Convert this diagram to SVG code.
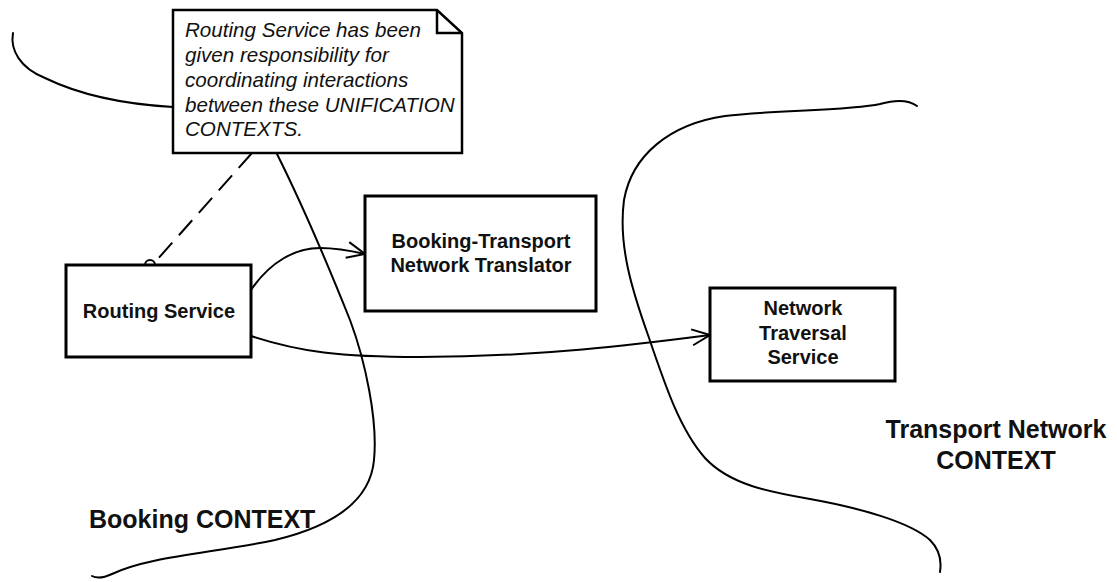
<svg xmlns="http://www.w3.org/2000/svg" width="1117" height="582" viewBox="0 0 1117 582">
<defs>
<style>
.bnd{fill:none;stroke:#000;stroke-width:2;stroke-linecap:round}
.con{fill:none;stroke:#000;stroke-width:2}
.box{fill:#fff;stroke:#000;stroke-width:3}
.lbl{font-family:"Liberation Sans",Arial,sans-serif;font-weight:bold;font-size:20px;fill:#111;text-anchor:middle}
.ctx{font-family:"Liberation Sans",Arial,sans-serif;font-weight:bold;font-size:25px;fill:#111}
.note{font-family:"Liberation Sans",Arial,sans-serif;font-style:italic;font-size:20.6px;fill:#111}
</style>
<marker id="open" viewBox="0 0 20 20" refX="19" refY="10" markerWidth="20" markerHeight="20" markerUnits="userSpaceOnUse" orient="auto">
<path d="M1,2 L19,10 L1,18" fill="none" stroke="#000" stroke-width="2"/>
</marker>
</defs>
<g id="boundaries">
<path class="bnd" d="M13,33 C10,50 20,68 45,78 C80,95 120,104 173,107"/>
<path class="bnd" d="M277,154 C300,200 330,270 350,320 C365,360 378,420 374,460 C370,505 325,528 275,540 C215,553 150,556 112,574 Q99,580 92,576"/>
<path class="bnd" d="M917,106 Q905,97 880,104 C850,111 770,110 725,116 C670,124 632,155 624,200 C618,245 632,290 648,335 C665,385 680,430 705,458 C730,485 770,492 810,499 C860,508 910,522 930,540 Q943,553 940,572"/>
</g>
<g id="connectors">
<path class="con" d="M252,153 L156,261" stroke-dasharray="20,10"/>
<path class="con" d="M251,290 C270,262 295,248 320,248 C338,248 352,251 365,254" marker-end="url(#open)"/>
<path class="con" d="M251,336 C300,352 340,357 420,357 C540,357 640,344 710,335" marker-end="url(#open)"/>
</g>
<g id="note">
<path class="box" style="stroke-width:2.5" d="M173,10 L437,10 L462,33 L462,153 L173,153 Z"/>
<path fill="none" stroke="#000" stroke-width="2.5" d="M437,10 L437,33 L462,33"/>
<text class="note" x="185" y="37">Routing Service has been</text>
<text class="note" x="185" y="62">given responsibility for</text>
<text class="note" x="185" y="87">coordinating interactions</text>
<text class="note" x="185" y="112">between these UNIFICATION</text>
<text class="note" x="185" y="136">CONTEXTS.</text>
</g>
<g id="routing-service">
<path fill="#fff" stroke="#000" stroke-width="2" d="M145,265 A5,5 0 0,1 155,265"/>
<rect class="box" x="66" y="265" width="185" height="92"/>
<text class="lbl" x="159" y="318">Routing Service</text>
</g>
<g id="translator">
<rect class="box" x="365" y="196" width="231" height="115"/>
<text class="lbl" x="481" y="248">Booking-Transport</text>
<text class="lbl" x="481" y="272">Network Translator</text>
</g>
<g id="network-traversal">
<rect class="box" x="710" y="288" width="185" height="93"/>
<text class="lbl" x="803" y="315">Network</text>
<text class="lbl" x="803" y="340">Traversal</text>
<text class="lbl" x="803" y="364">Service</text>
</g>
<g id="labels">
<text class="ctx" x="89" y="528">Booking CONTEXT</text>
<text class="ctx" x="996" y="438" text-anchor="middle">Transport Network</text>
<text class="ctx" x="996" y="469" text-anchor="middle">CONTEXT</text>
</g>
</svg>
